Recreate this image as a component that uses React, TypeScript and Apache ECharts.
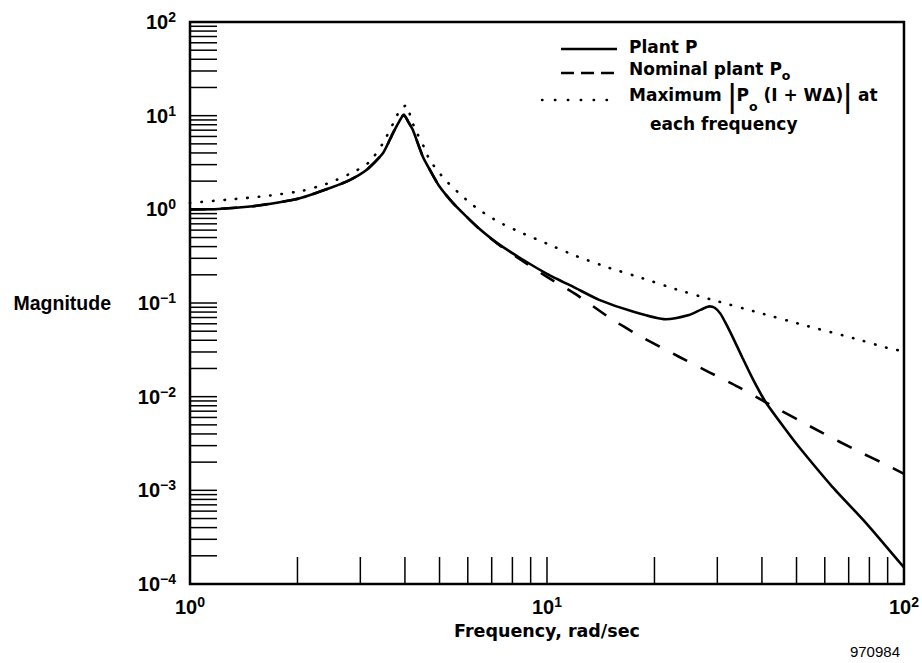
import React, { useEffect, useRef } from "react";
import * as echarts from "echarts";

// Axis extents
const X_MIN = 1;
const X_MAX = 100;
const Y_MIN = 1e-4;
const Y_MAX = 100;

// Plant P (solid)
const plantFreq = [1, 1.2, 1.5, 1.8, 2.03, 2.5, 2.8, 3.12, 3.47, 3.7, 3.85, 3.97, 4.08, 4.21, 4.49, 4.75, 5.0, 5.45, 5.94, 6.5, 7.36, 8.5, 10, 12, 14, 17.4, 21.5, 25, 27, 28.5, 29.5, 30.6, 31.8, 33.2, 35.3, 37.7, 41.0, 46.7, 50.8, 63, 78.2, 100];
const plantMag = [1.0, 1.01, 1.08, 1.2, 1.31, 1.72, 2.05, 2.63, 3.96, 6.48, 8.6, 10.2, 8.7, 7.03, 3.65, 2.45, 1.75, 1.17, 0.84, 0.61, 0.42, 0.295, 0.205, 0.145, 0.108, 0.081, 0.067, 0.0745, 0.085, 0.092, 0.089, 0.077, 0.059, 0.0424, 0.0259, 0.0155, 0.0087, 0.0044, 0.0029, 0.00109, 0.00045, 0.00015];

// Nominal plant Po (dashed)
const nominalFreq = [1, 1.2, 1.5, 1.8, 2.03, 2.5, 2.8, 3.12, 3.47, 3.7, 3.85, 3.97, 4.08, 4.21, 4.49, 4.75, 5.0, 5.45, 5.94, 6.5, 7.36, 8.5, 10, 12, 15.1, 18.1, 23.5, 28.5, 34.2, 41, 59.1, 73.2, 89.8, 100];
const nominalMag = [1.0, 1.01, 1.08, 1.2, 1.31, 1.72, 2.05, 2.63, 3.96, 6.48, 8.6, 10.2, 8.7, 7.03, 3.65, 2.45, 1.75, 1.17, 0.84, 0.605, 0.415, 0.284, 0.19, 0.125, 0.068, 0.045, 0.0265, 0.0182, 0.0128, 0.0087, 0.0041, 0.0027, 0.00185, 0.0015];

// Maximum |Po(I + W delta)| (dotted)
const maxFreq = [1, 1.31, 1.64, 2.07, 2.4, 2.57, 2.9, 3.19, 3.47, 3.73, 3.86, 4.04, 4.14, 4.26, 4.54, 4.69, 5.17, 5.78, 6.4, 7.3, 8.5, 10, 12, 14.8, 18.5, 23, 28.8, 39.3, 53.6, 72.4, 90.8, 100];
const maxMag = [1.17, 1.28, 1.39, 1.58, 1.86, 2.06, 2.55, 3.23, 5.07, 8.63, 11.2, 13.0, 10.0, 7.33, 4.49, 3.37, 2.09, 1.39, 1.01, 0.738, 0.56, 0.43, 0.32, 0.24, 0.184, 0.14, 0.109, 0.0788, 0.0568, 0.042, 0.0328, 0.0305];

// Minor tick marks (drawn inward)
const xTickValues = [2, 3, 4, 5, 6, 7, 8, 9, 10, 20, 30, 40, 50, 60, 70, 80, 90];
const yTickDecades = [1e-4, 1e-3, 1e-2, 1e-1, 1, 10];
const yTickMultipliers = [1, 2, 3, 4, 5, 6, 7, 8, 9];

const TICK_LEN = 27;
const TICK_FONT = "'Liberation Sans', Arial, sans-serif";
const TEXT_FONT = "'DejaVu Sans', sans-serif";

const pairs = (xs: number[], ys: number[]) => xs.map((x, i) => [x, ys[i]]);

const supLabel = (v: number) => {
  const e = Math.round(Math.log10(v));
  return `{b|10}{e|${e < 0 ? "\u2212" + -e : e}}`;
};

const labelRich = {
  b: { fontFamily: TICK_FONT, fontWeight: "bold", fontSize: 20, lineHeight: 24, verticalAlign: "middle", color: "#000" },
  e: { fontFamily: TICK_FONT, fontWeight: "bold", fontSize: 14, lineHeight: 12, verticalAlign: "top", color: "#000" },
};

export default function App() {
  const ref = useRef<HTMLDivElement>(null);
  useEffect(() => {
    if (!ref.current) return;
    const chart = echarts.init(ref.current, undefined, { renderer: "svg" });

    const yTickValues: number[] = [];
    yTickDecades.forEach((d) => yTickMultipliers.forEach((m) => {
      const v = d * m;
      if (v > Y_MIN * 1.0001) yTickValues.push(v);
    }));

    const nText = { fontFamily: TEXT_FONT, fontWeight: "bold", fontSize: 17, color: "#000" };

    chart.setOption({
      animation: false,
      backgroundColor: "#fff",
      grid: { left: 190, right: 17, top: 22, bottom: 79, show: true, borderColor: "#000", borderWidth: 2.5, backgroundColor: "transparent" },
      xAxis: {
        type: "log",
        logBase: 10,
        min: X_MIN,
        max: X_MAX,
        splitLine: { show: false },
        axisLine: { show: false },
        axisTick: { show: false },
        axisLabel: { margin: 11, formatter: supLabel, rich: labelRich, color: "#000" },
        name: "Frequency, rad/sec",
        nameLocation: "middle",
        nameGap: 44,
        nameTextStyle: { fontFamily: TEXT_FONT, fontWeight: "bold", fontSize: 17.5, color: "#000", verticalAlign: "middle" },
      },
      yAxis: {
        type: "log",
        logBase: 10,
        min: Y_MIN,
        max: Y_MAX,
        splitLine: { show: false },
        axisLine: { show: false },
        axisTick: { show: false },
        axisLabel: { margin: 14, formatter: supLabel, rich: labelRich, color: "#000" },
        name: "Magnitude",
        nameLocation: "middle",
        nameRotate: 0,
        nameGap: 79,
        nameTextStyle: { fontFamily: TICK_FONT, fontWeight: "bold", fontSize: 19.5, color: "#000", align: "right", verticalAlign: "middle", padding: [0, 0, 5, 0] },
      },
      series: [
        {
          name: "x ticks",
          type: "custom",
          silent: true,
          data: xTickValues.map((v) => [v, Y_MIN]),
          renderItem: (_p: any, api: any) => {
            const pt = api.coord([api.value(0), api.value(1)]);
            return { type: "line", shape: { x1: pt[0], y1: pt[1], x2: pt[0], y2: pt[1] - TICK_LEN }, style: { stroke: "#000", lineWidth: 1.5 } };
          },
          z: 1,
        },
        {
          name: "y ticks",
          type: "custom",
          silent: true,
          data: yTickValues.map((v) => [X_MIN, v]),
          renderItem: (_p: any, api: any) => {
            const pt = api.coord([api.value(0), api.value(1)]);
            return { type: "line", shape: { x1: pt[0], y1: pt[1], x2: pt[0] + TICK_LEN, y2: pt[1] }, style: { stroke: "#000", lineWidth: 1.5 } };
          },
          z: 1,
        },
        {
          name: "Nominal plant Po",
          type: "line",
          data: pairs(nominalFreq, nominalMag),
          showSymbol: false,
          symbol: "none",
          smooth: 0.2,
          lineStyle: { color: "#000", width: 2.6, type: [16, 15] },
          z: 2,
        },
        {
          name: "Maximum |Po (I + WΔ)| at each frequency",
          type: "line",
          data: pairs(maxFreq, maxMag),
          showSymbol: false,
          symbol: "none",
          smooth: 0.2,
          lineStyle: { color: "#000", width: 2.6, type: [0.5, 11], cap: "round" },
          z: 3,
        },
        {
          name: "Plant P",
          type: "line",
          data: pairs(plantFreq, plantMag),
          showSymbol: false,
          symbol: "none",
          smooth: 0.2,
          lineStyle: { color: "#000", width: 2.6 },
          z: 4,
        },
      ],
      graphic: [
        { type: "line", shape: { x1: 561, y1: 49, x2: 617, y2: 49 }, style: { stroke: "#000", lineWidth: 2.6 } },
        { type: "line", shape: { x1: 561, y1: 73, x2: 617, y2: 73 }, style: { stroke: "#000", lineWidth: 2.6, lineDash: [13, 7] } },
        { type: "line", shape: { x1: 542, y1: 100, x2: 619, y2: 100 }, style: { stroke: "#000", lineWidth: 2.4, lineDash: [0.5, 12.4], lineCap: "round" } },
        {
          type: "text", x: 629, y: 47,
          style: { text: "Plant P", ...nText, fill: "#000", align: "left", verticalAlign: "middle" },
        },
        {
          type: "text", x: 629, y: 68.5,
          style: {
            text: "{n|Nominal plant P}{s|o}",
            align: "left", verticalAlign: "middle",
            rich: {
              n: { ...nText, lineHeight: 26, verticalAlign: "middle" },
              s: { ...nText, fontSize: 12.5, lineHeight: 12, verticalAlign: "bottom" },
            },
          },
        },
        {
          type: "text", x: 629, y: 95,
          style: {
            text: "{n|Maximum }{bar||}{n|P}{s|o}{n| (I + W\u0394)}{bar||}{n| at}",
            align: "left", verticalAlign: "middle",
            rich: {
              n: { ...nText, lineHeight: 36, verticalAlign: "middle" },
              bar: { fontFamily: TICK_FONT, fontWeight: "normal", fontSize: 34, lineHeight: 36, verticalAlign: "middle", color: "#000" },
              s: { ...nText, fontSize: 12.5, lineHeight: 12, verticalAlign: "bottom" },
            },
          },
        },
        {
          type: "text", x: 650, y: 124,
          style: { text: "each frequency", ...nText, fill: "#000", align: "left", verticalAlign: "middle" },
        },
        {
          type: "text", x: 900, y: 651,
          style: { text: "970984", fontFamily: TICK_FONT, fontSize: 15, fill: "#000", align: "right", verticalAlign: "middle" },
        },
      ],
    });
    return () => chart.dispose();
  }, []);
  return <div ref={ref} style={{ position: "absolute", left: 0, top: 0, width: 922, height: 663, background: "#fff" }} />;
}
